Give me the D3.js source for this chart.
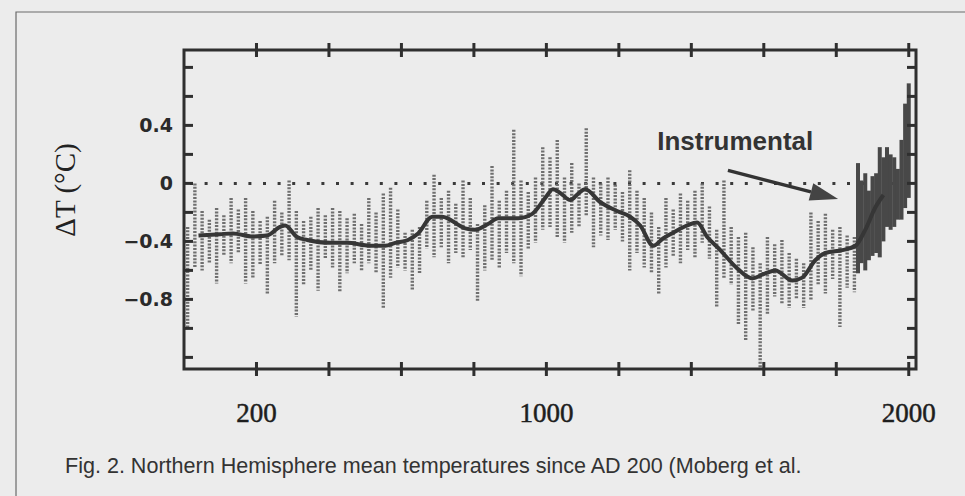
<!DOCTYPE html>
<html lang="en">
<head>
<meta charset="UTF-8">
<title>Northern Hemisphere mean temperatures</title>
<style>
  body { margin: 0; background: #ececec; }
  #chart-wrapper { width: 965px; height: 496px; }
</style>
</head>
<body>
<div id="chart-wrapper"></div>
<script src="https://d3js.org/d3.v7.min.js"></script>
<script>
const proxyYears = [10, 30, 50, 70, 90, 110, 130, 150, 170, 190, 210, 230, 250, 270, 290, 310, 330, 350, 370, 390,
    410, 430, 450, 470, 490, 510, 530, 550, 570, 590, 610, 630, 650, 670, 690, 710, 730, 750, 770, 790,
    810, 830, 850, 870, 890, 910, 930, 950, 970, 990, 1010, 1030, 1050, 1070, 1090, 1110, 1130, 1150, 1170, 1190,
    1210, 1230, 1250, 1270, 1290, 1310, 1330, 1350, 1370, 1390, 1410, 1430, 1450, 1470, 1490, 1510, 1530, 1550, 1570, 1590,
    1610, 1630, 1650, 1670, 1690, 1710, 1730, 1750, 1770, 1790, 1810, 1830, 1850]
const proxyHigh = [-0.30, 0.00, -0.19, -0.25, -0.17, -0.22, -0.10, -0.18, -0.10, -0.19, -0.26, -0.23, -0.12, -0.20, 0.02, -0.19, -0.26, -0.23, -0.17, -0.22,
    -0.17, -0.19, -0.24, -0.21, -0.28, -0.10, -0.20, -0.07, -0.03, -0.18, -0.34, -0.32, -0.30, -0.12, 0.06, -0.10, -0.05, -0.14, 0.02, -0.10,
    -0.28, -0.15, 0.12, -0.12, -0.05, 0.37, 0.02, -0.06, 0.04, 0.25, 0.18, 0.30, 0.04, 0.14, 0.00, 0.38, 0.04, 0.00, 0.04, -0.01,
    -0.06, 0.09, -0.05, -0.10, -0.20, -0.30, -0.10, -0.18, -0.07, -0.12, -0.05, 0.00, -0.16, -0.32, 0.02, -0.30, -0.37, -0.34, -0.44, -0.55,
    -0.37, -0.42, -0.39, -0.48, -0.52, -0.55, -0.20, -0.26, -0.21, -0.32, -0.30, -0.36, -0.37]
const proxyLow = [-1.00, -0.58, -0.60, -0.55, -0.69, -0.50, -0.55, -0.48, -0.69, -0.65, -0.56, -0.77, -0.55, -0.50, -0.53, -0.92, -0.70, -0.60, -0.74, -0.52,
    -0.58, -0.75, -0.62, -0.55, -0.60, -0.55, -0.62, -0.86, -0.65, -0.58, -0.60, -0.74, -0.62, -0.45, -0.51, -0.44, -0.55, -0.48, -0.51, -0.46,
    -0.81, -0.60, -0.53, -0.58, -0.48, -0.55, -0.64, -0.45, -0.41, -0.32, -0.30, -0.38, -0.41, -0.34, -0.30, -0.23, -0.44, -0.36, -0.39, -0.32,
    -0.40, -0.60, -0.48, -0.58, -0.62, -0.76, -0.58, -0.50, -0.55, -0.46, -0.51, -0.41, -0.52, -0.86, -0.65, -0.70, -0.97, -1.08, -0.88, -1.27,
    -0.90, -0.78, -0.83, -0.86, -0.80, -0.86, -0.81, -0.70, -0.76, -0.66, -0.99, -0.72, -0.75]

// instrumental record, 10-year high/low
const instYears = [1860, 1870, 1880, 1890, 1900, 1910, 1920, 1930, 1940, 1950, 1960, 1970, 1980, 1990, 2000]
const instHigh = [0.14, 0.02, 0.07, -0.05, 0.05, 0.07, 0.25, 0.18, 0.25, 0.20, 0.18, 0.10, 0.30, 0.55, 0.69]
const instLow = [-0.62, -0.55, -0.60, -0.53, -0.50, -0.48, -0.51, -0.40, -0.30, -0.32, -0.30, -0.25, -0.25, -0.17, -0.10]

// low-pass filtered curve
const smoothYears = [40, 100, 135, 190, 229, 265, 279, 312, 340, 403, 450, 513, 555, 583, 618, 646, 685, 712, 776, 803,
    839, 867, 922, 961, 997, 1018, 1040, 1066, 1088, 1107, 1149, 1195, 1231, 1259, 1295, 1322, 1350, 1389, 1416, 1444,
    1480, 1524, 1568, 1604, 1632, 1679, 1706, 1742, 1770, 1817, 1853, 1880, 1908, 1930]
const smoothValues = [-0.36, -0.35, -0.345, -0.366, -0.36, -0.30, -0.29, -0.37, -0.39, -0.41, -0.41, -0.43, -0.43, -0.41, -0.39, -0.345, -0.23, -0.23, -0.31, -0.32,
    -0.28, -0.24, -0.24, -0.21, -0.10, -0.04, -0.07, -0.115, -0.07, -0.04, -0.13, -0.19, -0.23, -0.29, -0.43, -0.38, -0.34, -0.29, -0.27, -0.37,
    -0.46, -0.58, -0.655, -0.62, -0.60, -0.67, -0.65, -0.53, -0.48, -0.46, -0.43, -0.32, -0.165, -0.08]

const xTicks = [200, 400, 600, 800, 1000, 1200, 1400, 1600, 1800, 2000]
const xTickLabels = [200, 1000, 2000]
const yTicks = [-1.2, -1.0, -0.8, -0.6, -0.4, -0.2, 0, 0.2, 0.4, 0.6, 0.8]
const yTickLabels = [0.4, 0, -0.4, -0.8]

const width = 965
const height = 496
const plot = { left: 184, right: 916, top: 50, bottom: 369 }
const ink = '#2f2f2f'

const svg = d3.select('#chart-wrapper')
    .append('svg')
    .attr('width', width)
    .attr('height', height)

const x = d3.scaleLinear().domain([0, 2020]).range([plot.left, plot.right])
const y = d3.scaleLinear().domain([-1.28, 0.92]).range([plot.bottom, plot.top])

// page frame lines from the scan
svg.append('path')
    .attr('d', `M16,${height} L16,12 L${width},12`)
    .attr('fill', 'none')
    .attr('stroke', '#6a6a6a')
    .attr('stroke-width', 1.2)

// zero line
svg.append('line')
    .attr('x1', plot.left + 6).attr('x2', plot.right)
    .attr('y1', y(0)).attr('y2', y(0))
    .attr('stroke', '#3a3a3a')
    .attr('stroke-width', 3)
    .attr('stroke-dasharray', '3 11.6')

// proxy spikes
svg.append('g')
    .selectAll('line')
    .data(proxyYears)
    .join('line')
    .attr('x1', d => x(d)).attr('x2', d => x(d))
    .attr('y1', (d, i) => y(proxyHigh[i]))
    .attr('y2', (d, i) => y(proxyLow[i]))
    .attr('stroke', '#6f6f6f')
    .attr('stroke-width', 3.4)
    .attr('stroke-dasharray', '2 1.4')

// instrumental spikes
svg.append('g')
    .selectAll('line')
    .data(instYears)
    .join('line')
    .attr('x1', d => x(d)).attr('x2', d => x(d))
    .attr('y1', (d, i) => y(instHigh[i]))
    .attr('y2', (d, i) => y(instLow[i]))
    .attr('stroke', '#484848')
    .attr('stroke-width', 4)

// smoothed curve
const line = d3.line()
    .x(d => x(d))
    .y((d, i) => y(smoothValues[i]))
    .curve(d3.curveMonotoneX)

svg.append('path')
    .attr('d', line(smoothYears))
    .attr('fill', 'none')
    .attr('stroke', '#363636')
    .attr('stroke-width', 4)
    .attr('stroke-linejoin', 'round')

// plot frame
svg.append('rect')
    .attr('x', plot.left).attr('y', plot.top)
    .attr('width', plot.right - plot.left)
    .attr('height', plot.bottom - plot.top)
    .attr('fill', 'none')
    .attr('stroke', ink)
    .attr('stroke-width', 3)

// x ticks cross the top and bottom lines
const xt = svg.append('g')
xTicks.forEach(t => {
    [plot.top, plot.bottom].forEach(yy => {
        xt.append('line')
            .attr('x1', x(t)).attr('x2', x(t))
            .attr('y1', yy - 7).attr('y2', yy + 7)
            .attr('stroke', ink).attr('stroke-width', 3)
    })
})

// y ticks point inward on both sides
const yt = svg.append('g')
yTicks.forEach(t => {
    yt.append('line')
        .attr('x1', plot.left).attr('x2', plot.left + 9)
        .attr('y1', y(t)).attr('y2', y(t))
        .attr('stroke', ink).attr('stroke-width', 3)
    yt.append('line')
        .attr('x1', plot.right - 9).attr('x2', plot.right)
        .attr('y1', y(t)).attr('y2', y(t))
        .attr('stroke', ink).attr('stroke-width', 3)
})

svg.append('g')
    .selectAll('text')
    .data(xTickLabels)
    .join('text')
    .attr('x', d => x(d))
    .attr('y', 422)
    .attr('text-anchor', 'middle')
    .attr('font-family', 'Liberation Serif, serif')
    .attr('font-size', 27)
    .attr('fill', '#1e1e1e')
    .attr('stroke', '#1e1e1e')
    .attr('stroke-width', 0.5)
    .text(d => d)

svg.append('g')
    .selectAll('text')
    .data(yTickLabels)
    .join('text')
    .attr('x', 173)
    .attr('y', d => y(d))
    .attr('dy', '0.36em')
    .attr('text-anchor', 'end')
    .attr('font-family', 'DejaVu Sans, sans-serif')
    .attr('font-weight', 'bold')
    .attr('font-size', 19)
    .attr('fill', '#2a2a2a')
    .text(d => d < 0 ? '\u2212' + Math.abs(d) : String(d))

svg.append('text')
    .attr('transform', 'translate(75, 190) rotate(-90)')
    .attr('text-anchor', 'middle')
    .attr('font-family', 'Liberation Serif, serif')
    .attr('font-size', 29)
    .attr('fill', '#222')
    .text('\u0394T (\u00B0C)')

// annotation
svg.append('text')
    .attr('x', x(1306))
    .attr('y', y(0.23))
    .attr('font-family', 'Liberation Sans, Arial, sans-serif')
    .attr('font-weight', 'bold')
    .attr('font-size', 26)
    .attr('fill', '#333')
    .text('Instrumental')

const a0 = [x(1501), y(0.09)]
const a1 = [x(1805), y(-0.107)]
const ang = Math.atan2(a1[1] - a0[1], a1[0] - a0[0])
const headLen = 28
const headW = 9
const base = [a1[0] - headLen * Math.cos(ang), a1[1] - headLen * Math.sin(ang)]
svg.append('line')
    .attr('x1', a0[0]).attr('y1', a0[1])
    .attr('x2', base[0]).attr('y2', base[1])
    .attr('stroke', '#333').attr('stroke-width', 3.5)
svg.append('path')
    .attr('d', `M${a1[0]},${a1[1]}
        L${base[0] + headW * Math.sin(ang)},${base[1] - headW * Math.cos(ang)}
        L${base[0] - headW * Math.sin(ang)},${base[1] + headW * Math.cos(ang)}Z`)
    .attr('fill', '#444')

// caption, fitted to the scanned width
const caption = svg.append('text')
    .attr('x', 65)
    .attr('y', 473)
    .attr('font-family', 'Liberation Sans, Arial, sans-serif')
    .attr('font-size', 18)
    .attr('fill', '#333')
    .text('Fig. 2. Northern Hemisphere mean temperatures since AD 200 (Moberg et al.')
const capLen = caption.node().getComputedTextLength()
caption.attr('font-size', 18 * 737 / capLen)
</script>
</body>
</html>
